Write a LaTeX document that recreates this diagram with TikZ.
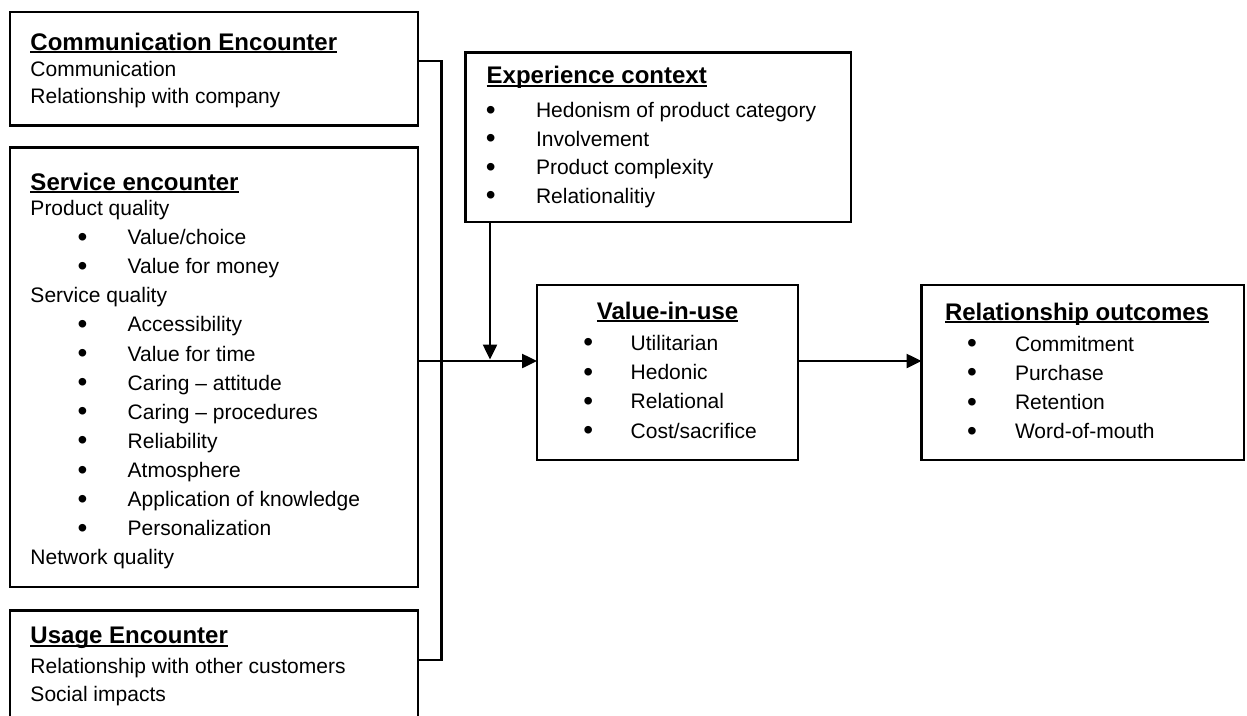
\documentclass[tikz,border=0pt]{standalone}
\usepackage{fontspec}
\setmainfont{Liberation Sans}
\usetikzlibrary{arrows.meta}
\newcommand\ttl[1]{\hbox{\fontsize{24}{24}\selectfont\bfseries\setbox0\hbox{#1}\rlap{\rule[-3.4pt]{\wd0}{2.2pt}}\box0}}
\newcommand\bul{\raisebox{-1.6pt}{\fontsize{28}{28}\selectfont\textbullet}}
\newcommand\bitem[3]{\hbox{\makebox[#2][l]{\hspace*{#1}\makebox[0pt]{\bul}}#3}}
\newcommand\pline[1]{\hbox{#1}}
\newcommand\vset[1]{\baselineskip=#1\lineskiplimit=-100pt\lineskip=0pt\relax}
\begin{document}
\begin{tikzpicture}[x=1pt,y=-1pt,
  box/.style={draw, line width=2.8pt, anchor=north west, inner sep=0pt, outer sep=0pt},
  txt/.style={anchor=base west, inner sep=0pt, outer sep=0pt, font=\fontsize{21}{29}\selectfont},
  link/.style={line width=2.5pt},
  arr/.style={line width=2.5pt, -{Triangle[length=15pt,width=14pt]}}]
\useasboundingbox (0,0) rectangle (1247,715);
\clip (0,0) rectangle (1247,715);

% boxes
\node[box, minimum width=408pt, minimum height=113.5pt] (comm) at (10,12) {};
\node[box, minimum width=408pt, minimum height=439.5pt] (serv) at (10,147.5) {};
\node[box, minimum width=408pt, minimum height=150pt] (usage) at (10,610.5) {};
\node[box, minimum width=385.5pt, minimum height=169.7pt] (exp) at (465.5,52.3) {};
\node[box, minimum width=261pt, minimum height=175pt] (val) at (537,285) {};
\node[box, minimum width=322.5pt, minimum height=175pt] (rel) at (921.5,285) {};

% texts
\node[txt] (comm-t) at (30.5,50) {\vtop{\vset{27.5pt}%
  \ttl{Communication Encounter}\vskip-1.5pt
  \pline{Communication}
  \pline{Relationship with company}}};

\node[txt] (serv-t) at (30.5,190) {\vtop{\vset{29.1pt}%
  \ttl{Service encounter}\vskip-3.6pt
  \pline{Product quality}
  \bitem{52pt}{97.2pt}{Value/choice}
  \bitem{52pt}{97.2pt}{Value for money}
  \pline{Service quality}
  \bitem{52pt}{97.2pt}{Accessibility}
  \bitem{52pt}{97.2pt}{Value for time}
  \bitem{52pt}{97.2pt}{Caring – attitude}
  \bitem{52pt}{97.2pt}{Caring – procedures}
  \bitem{52pt}{97.2pt}{Reliability}
  \bitem{52pt}{97.2pt}{Atmosphere}
  \bitem{52pt}{97.2pt}{Application of knowledge}
  \bitem{52pt}{97.2pt}{Personalization}
  \pline{Network quality}}};

\node[txt] (usage-t) at (30.5,643.5) {\vtop{\vset{27.7pt}%
  \ttl{Usage Encounter}\vskip2.1pt
  \pline{Relationship with other customers}
  \pline{Social impacts}}};

\node[txt] (exp-t) at (486.7,83.3) {\vtop{\vset{28.5pt}%
  \ttl{Experience context}\vskip6pt
  \bitem{4pt}{49.3pt}{Hedonism of product category}
  \bitem{4pt}{49.3pt}{Involvement}
  \bitem{4pt}{49.3pt}{Product complexity}
  \bitem{4pt}{49.3pt}{Relationalitiy}}};

\node[txt, anchor=base] (val-h) at (667.5,319) {\ttl{Value-in-use}};
\node[txt] (val-t) at (580,350) {\vtop{\vset{29.4pt}%
  \bitem{8.3pt}{50.7pt}{Utilitarian}
  \bitem{8.3pt}{50.7pt}{Hedonic}
  \bitem{8.3pt}{50.7pt}{Relational}
  \bitem{8.3pt}{50.7pt}{Cost/sacrifice}}};

\node[txt] (rel-t) at (945,320) {\vtop{\vset{29.2pt}%
  \ttl{Relationship outcomes}\vskip1.8pt
  \bitem{27pt}{70pt}{Commitment}
  \bitem{27pt}{70pt}{Purchase}
  \bitem{27pt}{70pt}{Retention}
  \bitem{27pt}{70pt}{Word-of-mouth}}};

% connectors
\coordinate (bt) at (441.7,61);
\coordinate (bb) at (441.7,660);
\coordinate (mid) at (0,361);
\coordinate (vend) at (490,359.5);
\draw[link] (comm.east |- bt) -- (bt) -- (bb) -- (usage.east |- bb);
\draw[arr] (serv.east |- mid) -- (val.west |- mid);
\draw[arr] (exp.south -| vend) -- (vend);
\draw[arr] (val.east |- mid) -- (rel.west |- mid);
\end{tikzpicture}
\end{document}
